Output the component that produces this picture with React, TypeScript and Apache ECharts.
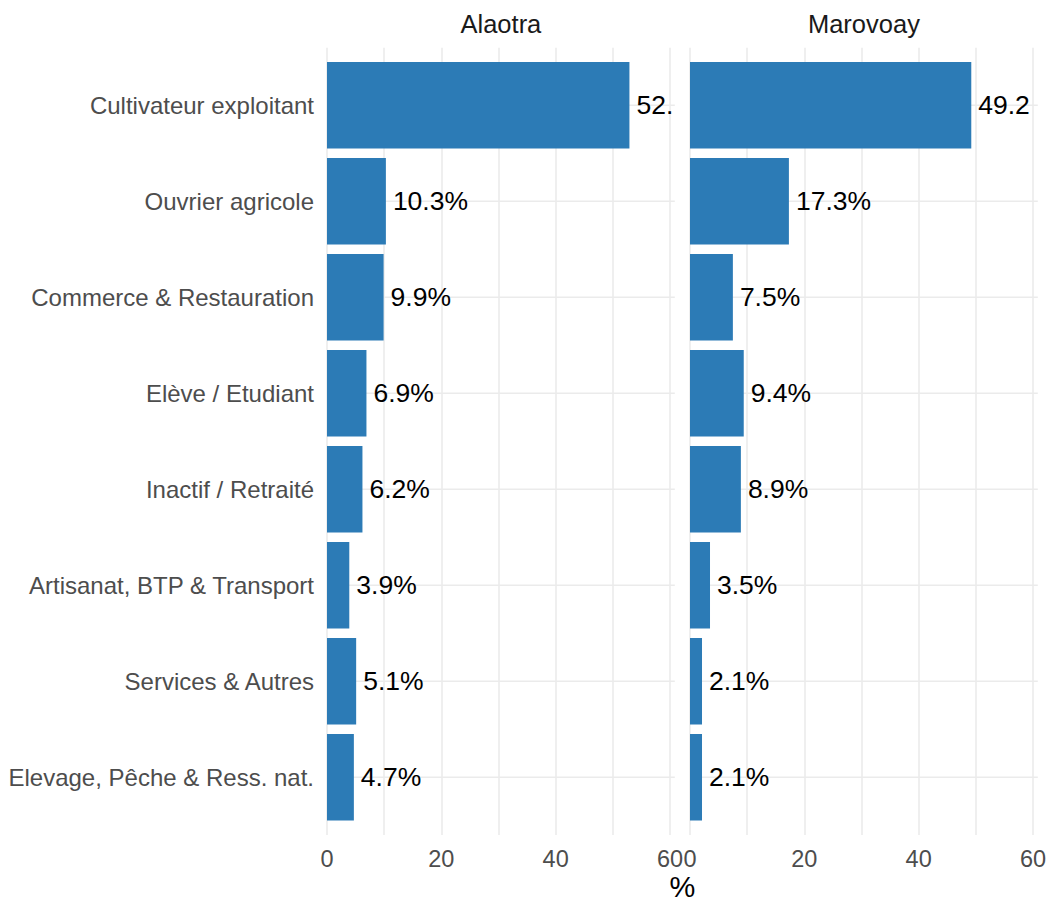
import React, { useEffect, useRef } from "react";
import * as echarts from "echarts";

const categories = [
  "Cultivateur exploitant",
  "Ouvrier agricole",
  "Commerce & Restauration",
  "Elève / Etudiant",
  "Inactif / Retraité",
  "Artisanat, BTP & Transport",
  "Services & Autres",
  "Elevage, Pêche & Ress. nat.",
];
const panels = ["Alaotra", "Marovoay"];
const alaotra = [52.9, 10.3, 9.9, 6.9, 6.2, 3.9, 5.1, 4.7];
const marovoay = [49.2, 17.3, 7.5, 9.4, 8.9, 3.5, 2.1, 2.1];
const tickLabels = [0, 20, 40, 60];
const xTitle = "%";

const XMAX = Math.max(...alaotra, ...marovoay) * 1.15;

export default function App() {
  const ref = useRef<HTMLDivElement>(null);
  useEffect(() => {
    if (!ref.current) return;
    const chart = echarts.init(ref.current, undefined, { renderer: "svg" });
    const FONT = "'Liberation Sans', Arial, Helvetica, sans-serif";
    const PW = 347.8;
    const lefts = [327, 690];
    const gTop = 47.7;
    const gH = 787.3;
    const bTop = 57.3;
    const bH = 768;
    const barColor = "#2C7BB6";
    const gridColor = "#EBEBEB";
    const LABEL_DIST = 7;
    const CLIP_SLACK = 6;

    const grids: any[] = [];
    lefts.forEach((l) => grids.push({ left: l, top: gTop, width: PW, height: gH }));
    lefts.forEach((l) => grids.push({ left: l, top: bTop, width: PW, height: bH }));
    lefts.forEach((l) => grids.push({ left: l, top: bTop, width: PW, height: bH }));

    const xAxes: any[] = [];
    [0, 1].forEach((i) =>
      xAxes.push({
        type: "value",
        gridIndex: i,
        min: 0,
        max: XMAX,
        interval: 10,
        axisLine: { show: false },
        axisTick: { show: false },
        splitLine: {
          show: true,
          showMaxLine: false,
          lineStyle: { color: gridColor, width: 1.6 },
        },
        axisLabel: {
          show: true,
          margin: 12,
          color: "#4D4D4D",
          fontSize: 23.5,
          fontFamily: FONT,
          showMaxLabel: false,
          formatter: (v: number) =>
            tickLabels.indexOf(Math.round(v * 1000) / 1000) >= 0 ? String(v) : "",
        },
      })
    );
    [2, 3, 4, 5].forEach((i) =>
      xAxes.push({ type: "value", gridIndex: i, min: 0, max: XMAX, show: false })
    );

    const yAxes: any[] = [];
    [0, 1].forEach((i) => yAxes.push({ type: "value", gridIndex: i, show: false }));
    [2, 3].forEach((i) =>
      yAxes.push({
        type: "category",
        gridIndex: i,
        data: categories,
        inverse: true,
        axisLine: { show: false },
        axisTick: { show: false },
        splitLine: { show: false },
        axisLabel: {
          show: i === 2,
          margin: 13,
          color: "#4D4D4D",
          fontSize: 24,
          fontFamily: FONT,
        },
      })
    );
    [4, 5].forEach((i) =>
      yAxes.push({
        type: "category",
        gridIndex: i,
        data: categories,
        inverse: true,
        show: false,
      })
    );

    const dataSets = [alaotra, marovoay];
    const series: any[] = [];
    dataSets.forEach((d, k) => {
      // horizontal grid lines at category centres
      series.push({
        type: "bar",
        xAxisIndex: 4 + k,
        yAxisIndex: 4 + k,
        data: categories.map(() => XMAX),
        barWidth: 1.6,
        z: 1,
        silent: true,
        itemStyle: { color: gridColor },
      });
      series.push({
        type: "bar",
        name: panels[k],
        xAxisIndex: 2 + k,
        yAxisIndex: 2 + k,
        barWidth: 86.4,
        z: 3,
        itemStyle: { color: barColor },
        label: {
          show: true,
          position: "right",
          distance: LABEL_DIST,
          color: "#000000",
          fontSize: 26.5,
          fontFamily: FONT,
          overflow: "truncate",
          ellipsis: "",
          formatter: (p: any) => p.value.toFixed(1) + "%",
        },
        data: d.map((v) => ({
          value: v,
          label: {
            width: Math.max(1, ((XMAX - v) * PW) / XMAX - LABEL_DIST + CLIP_SLACK),
          },
        })),
      });
    });

    const graphics: any[] = [];
    panels.forEach((p, k) => {
      graphics.push({
        type: "text",
        x: lefts[k] + PW / 2,
        y: 24,
        style: {
          text: p,
          fill: "#1A1A1A",
          fontSize: 25.5,
          fontFamily: FONT,
          align: "center",
          verticalAlign: "middle",
        },
      });
    });
    graphics.push({
      type: "text",
      x: (lefts[0] + lefts[1] + PW) / 2,
      y: 887,
      style: {
        text: xTitle,
        fill: "#000000",
        fontSize: 29,
        fontFamily: FONT,
        align: "center",
        verticalAlign: "middle",
      },
    });

    chart.setOption({
      animation: false,
      backgroundColor: "#ffffff",
      grid: grids,
      xAxis: xAxes,
      yAxis: yAxes,
      series,
      graphic: graphics,
    });
    return () => chart.dispose();
  }, []);
  return (
    <div
      ref={ref}
      style={{ position: "fixed", left: 0, top: 0, width: 1054, height: 902 }}
    />
  );
}
